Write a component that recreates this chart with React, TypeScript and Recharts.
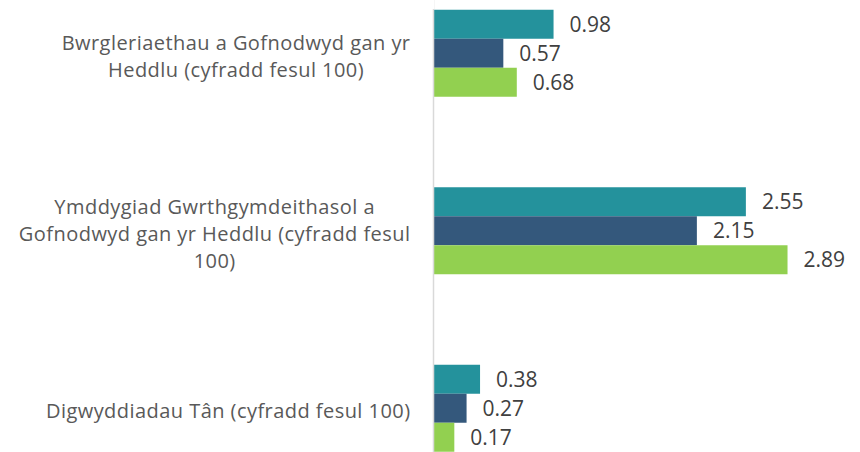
import React from "react";
import { BarChart, Bar, XAxis, YAxis, LabelList } from "recharts";

const categories = [
  "Bwrgleriaethau a Gofnodwyd gan yr\nHeddlu (cyfradd fesul 100)",
  "Ymddygiad Gwrthgymdeithasol a\nGofnodwyd gan yr Heddlu (cyfradd fesul\n100)",
  "Digwyddiadau Tân (cyfradd fesul 100)",
];
const seriesA = [0.98, 2.55, 0.38];
const seriesB = [0.57, 2.15, 0.27];
const seriesC = [0.68, 2.89, 0.17];

const data = categories.map((name, i) => ({
  name,
  a: seriesA[i],
  b: seriesB[i],
  c: seriesC[i],
}));

const FONT = "'Open Sans', sans-serif";
const TEXT = "#595959";
const LS = 0.45;

let ctx: CanvasRenderingContext2D | null = null;
const measure = (s: string) => {
  if (!ctx) {
    ctx = document.createElement("canvas").getContext("2d");
  }
  if (!ctx) return s.length * 10;
  ctx.font = "20px 'Open Sans'";
  return ctx.measureText(s).width + s.length * LS;
};

const CategoryTick = (props: any) => {
  const { x, y, payload } = props;
  const lines = String(payload.value).split("\n");
  const lh = 26.8;
  const maxW = Math.max(...lines.map(measure));
  const cx = x - 15 - maxW / 2;
  return (
    <g>
      {lines.map((ln: string, i: number) => (
        <text
          key={i}
          x={cx}
          y={y + (i - (lines.length - 1) / 2) * lh + 2}
          textAnchor="middle"
          dominantBaseline="central"
          fill={TEXT}
          fontFamily={FONT}
          fontSize={20}
          letterSpacing={LS}
        >
          {ln}
        </text>
      ))}
    </g>
  );
};

const labelProps = {
  position: "right" as const,
  offset: 16,
  fill: "#404040",
  fontFamily: FONT,
  fontSize: 21,
};

export default function App() {
  return (
    <div
      style={{
        position: "absolute",
        top: 0,
        left: 0,
        width: 860,
        height: 452,
        overflow: "hidden",
        background: "#fff",
      }}
    >
      <div style={{ position: "absolute", top: -39.75, left: 0 }}>
        <BarChart
          width={860}
          height={542.5}
          data={data}
          layout="vertical"
          margin={{ top: 5, right: 10, bottom: 5, left: 0 }}
          barGap={0}
          barCategoryGap={44.75}
        >
          <XAxis type="number" hide domain={[0, 3.4]} />
          <YAxis
            type="category"
            dataKey="name"
            width={433.5}
            tickLine={false}
            axisLine={{ stroke: "#d9d9d9", strokeWidth: 1.5 }}
            tick={<CategoryTick />}
            interval={0}
          />
          <Bar dataKey="a" fill="#24929c" isAnimationActive={false}>
            <LabelList dataKey="a" {...labelProps} />
          </Bar>
          <Bar dataKey="b" fill="#34587c" isAnimationActive={false}>
            <LabelList dataKey="b" {...labelProps} />
          </Bar>
          <Bar dataKey="c" fill="#92d050" isAnimationActive={false}>
            <LabelList dataKey="c" {...labelProps} />
          </Bar>
        </BarChart>
      </div>
      <div
        style={{
          position: "absolute",
          top: 0,
          left: 428,
          width: 5.5,
          height: 9,
          background: "#fff",
        }}
      />
    </div>
  );
}
